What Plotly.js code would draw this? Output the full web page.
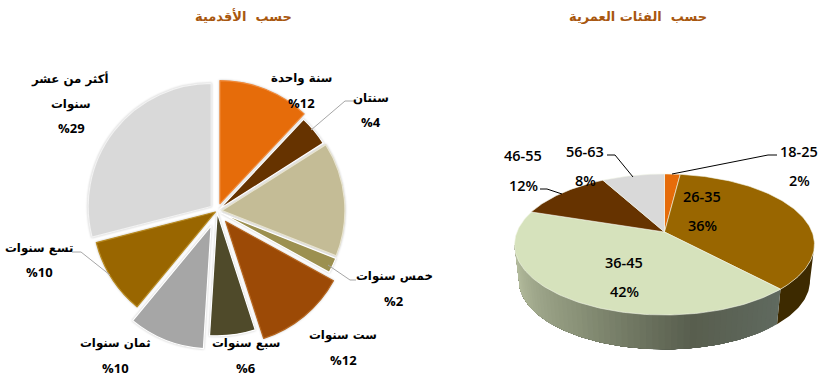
<!DOCTYPE html>
<html><head><meta charset="utf-8">
<script src="https://cdn.plot.ly/plotly-3.0.1.min.js"></script>
<style>html,body{margin:0;padding:0;background:#fff}#c{width:830px;height:387px}
.pielayer{filter:drop-shadow(0 0 1px rgba(0,0,0,.22))}</style>
</head><body><div id="c"></div>
<script>
// ---------- data ----------
const tenureTitle = 'حسب  الأقدمية';
const tenureLabels = ['سنة واحدة','سنتان','أربع سنوات','خمس سنوات','ست سنوات','سبع سنوات','ثمان سنوات','تسع سنوات','أكثر من عشر سنوات'];
const tenureValues = [12,4,15,2,12,6,10,10,29];
const tenureColors = ['#e66c0a','#663300','#c4bc96','#9c9050','#9c4a06','#4f4a2a','#a6a6a6','#996600','#d9d9d9'];
const tenureBorders = ['#f08a3a','#ffffff','#e8e4d0','#ffffff','#b5651d','#ffffff','#ffffff','#b88a20','#f2f2f2'];
const tenurePull = [0.065,0.025,0.04,0.04,0.11,0.015,0.13,0.015,0.06];

const ageTitle = 'حسب  الفئات العمرية';
const ageLabels = ['18-25','26-35','36-45','46-55','56-63'];
const ageValues = [2,36,42,12,8];
const ageColors = ['#e66c0a','#996600','#d6e2bc','#663300','#d9d9d9'];

// text placement (page pixels): [x, y, text]
const tenureText = [
  [301,78,'سنة واحدة'],[301,103,'%12'],
  [371,98,'سنتان'],[371,122,'%4'],
  [394,276,'خمس سنوات'],[394,301,'%2'],
  [343,335,'ست سنوات'],[343,360,'%12'],
  [246,343,'سبع سنوات'],[246,368,'%6'],
  [115,343,'ثمان سنوات'],[115,368,'%10'],
  [39,248,'تسع سنوات'],[39,272,'%10'],
  [70,79,'أكثر من عشر'],[71,104,'سنوات'],[71,128,'%29']
];
const ageText = [
  [799,151,'18-25'],[799,180,'2%'],
  [702,196,'26-35'],[702,225,'36%'],
  [624,262,'36-45'],[624,291,'42%'],
  [523,155,'46-55'],[523,185,'12%'],
  [585,151,'56-63'],[585,180,'8%']
];

// ---------- 3D-look pie geometry, projected through the cartesian axes ----------
const cx=664.5, cy=232, p=0.177, A=147.6, B=68.3, depth=36.8, shrink=0.97;
function proj(t,bottom){
  const u=Math.sin(t), v=Math.cos(t), d=1+p*v, s=bottom?shrink:1;
  return [cx+s*A*u/d, cy+(bottom?depth:0)-s*B*v/d];
}
function arc(t0,t1,bottom){
  const n=Math.max(2,Math.ceil(Math.abs(t1-t0)/0.02)), o=[];
  for(let i=0;i<=n;i++) o.push(proj(t0+(t1-t0)*i/n,bottom));
  return o;
}
function poly(pts,color,line){
  return {type:'scatter',mode:'lines',x:pts.map(q=>q[0]),y:pts.map(q=>q[1]),fill:'toself',
    fillcolor:color,line:{color:line||color,width:line?0.6:0},hoverinfo:'skip',showlegend:false};
}
function lerp(a,b,f){return a.map((c,i)=>c+(b[i]-c)*f);}
function rgb(c){return 'rgb('+c.map(Math.round).join(',')+')';}
const traces=[];
const total=ageValues.reduce((a,b)=>a+b,0);
const edges=[0]; ageValues.forEach(v=>edges.push(edges[edges.length-1]+v/total*2*Math.PI));
const silL=Math.acos(-p), silR=2*Math.PI-silL, split=edges[2];
// side wall: painted back to front, each band running on to the far edge, so no seams show
const wall=[[0,[0x60,0x6a,0x60]],[0.28,[0x58,0x5e,0x4e]],[0.6,[0x8a,0x92,0x78]],[1,[0xbb,0xc3,0xa4]]];
function wallColor(f){
  for(let i=1;i<wall.length;i++) if(f<=wall[i][0])
    return lerp(wall[i-1][1],wall[i][1],(f-wall[i-1][0])/(wall[i][0]-wall[i-1][0]));
  return wall[wall.length-1][1];
}
traces.push(poly(arc(silL,split,false).concat(arc(split,silL,true)),'#3d2a00'));
const strips=60;
for(let i=0;i<strips;i++){
  const a=split+(silR-split)*i/strips;
  traces.push(poly(arc(a,silR,false).concat(arc(silR,a,true)),rgb(wallColor((i+0.5)/strips))));
}
// top wedges
ageValues.forEach((v,i)=>{
  const pts=[[cx,cy]].concat(arc(edges[i],edges[i+1],false)); pts.push([cx,cy]);
  traces.push(poly(pts,ageColors[i],'#f4f7ea'));
});
// exploded pie
traces.push({type:'pie',labels:tenureLabels,values:tenureValues,sort:false,direction:'clockwise',rotation:0,
  pull:tenurePull,textinfo:'none',hoverinfo:'skip',showlegend:false,
  marker:{colors:tenureColors,line:{color:tenureBorders,width:1.2}},
  domain:{x:[(217-139)/830,(217+139)/830],y:[1-(211+139)/387,1-(211-139)/387]}});

const arabic='"DejaVu Sans","Noto Sans",sans-serif';
const latin='"Open Sans","Noto Sans",sans-serif';
function ann(r,size,font,weight,color){
  return {x:r[0],y:r[1],text:r[2],xref:'x',yref:'y',showarrow:false,xanchor:'center',yanchor:'middle',
    font:{family:font,size:size,color:color||'#000',weight:weight}};
}
const annotations=[
  ann([243,16,tenureTitle],13,arabic,700,'#a8570f'),
  ann([638,16,ageTitle],13,arabic,700,'#a8570f')
].concat(tenureText.map(r=>ann(r,r[2][0]==='%'?13:11.8,r[2][0]==='%'?latin:arabic,700)))
 .concat(ageText.map(r=>ann(r,14.5,latin,600)));

function leader(d,color){return {type:'path',xref:'x',yref:'y',path:d,line:{color:color,width:1}};}
const shapes=[
  leader('M311,130L345,101L354,101','#a6a6a6'),
  leader('M110,275L81,252L72,252','#a6a6a6'),
  leader('M328,265L350,280L356,280','#a6a6a6'),
  leader('M672,174L768,155L777,155','#000'),
  leader('M633,177L615,155L607,155','#000'),
  leader('M562,194L547,189L540,189','#000')
];
const hidden={visible:false,fixedrange:true};
Plotly.newPlot('c',traces,{
  width:830,height:387,margin:{l:0,r:0,t:0,b:0},paper_bgcolor:'#fff',plot_bgcolor:'#fff',
  xaxis:Object.assign({range:[0,830]},hidden),
  yaxis:Object.assign({range:[387,0]},hidden),
  annotations:annotations,shapes:shapes,showlegend:false
},{displayModeBar:false,staticPlot:true});
</script></body></html>
